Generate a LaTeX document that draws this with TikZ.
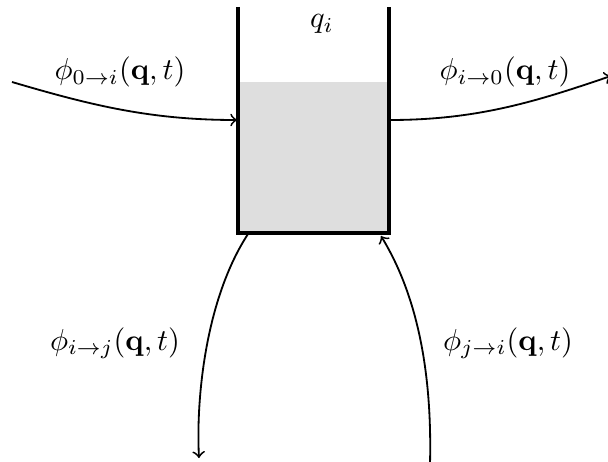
\documentclass[tikz,border=0pt]{standalone}
\usepackage{amsmath}
\begin{document}
\begin{tikzpicture}[x=0.33pt,y=-0.33pt,
  wall/.style={line width=1pt},
  flow/.style={semithick,->},
  lbl/.style={inner sep=0pt,anchor=center}]
\useasboundingbox (0,0) rectangle (608,462);
\fill[black!13] (238,82) rectangle (389,233);
\draw[wall] (238,7) -- (238,233) -- (389,233) -- (389,7);
\node[lbl] (q) at (322,24) {$q_i$};
\coordinate (inL) at (237,120);
\coordinate (outR) at (390,120);
\coordinate (outB) at (248,234);
\coordinate (inB) at (381,236);
\coordinate (srcL) at (12,82);
\coordinate (dstR) at (611,76);
\coordinate (dstB) at (199,458);
\coordinate (srcB) at (430,464);
\node[lbl] (l1) at (120,72) {$\phi_{0\to i}(\mathbf{q},t)$};
\node[lbl] (l2) at (505,72) {$\phi_{i\to 0}(\mathbf{q},t)$};
\node[lbl] (l3) at (115,343) {$\phi_{i\to j}(\mathbf{q},t)$};
\node[lbl] (l4) at (508,343) {$\phi_{j\to i}(\mathbf{q},t)$};
\draw[flow] (srcL) .. controls (90,105) and (150,120) .. (inL);
\draw[flow] (outR) .. controls (480,120) and (540,100) .. (dstR);
\draw[flow] (outB) .. controls (205,300) and (196,400) .. (dstB);
\draw[flow] (srcB) .. controls (432,380) and (420,300) .. (inB);
\end{tikzpicture}
\end{document}
